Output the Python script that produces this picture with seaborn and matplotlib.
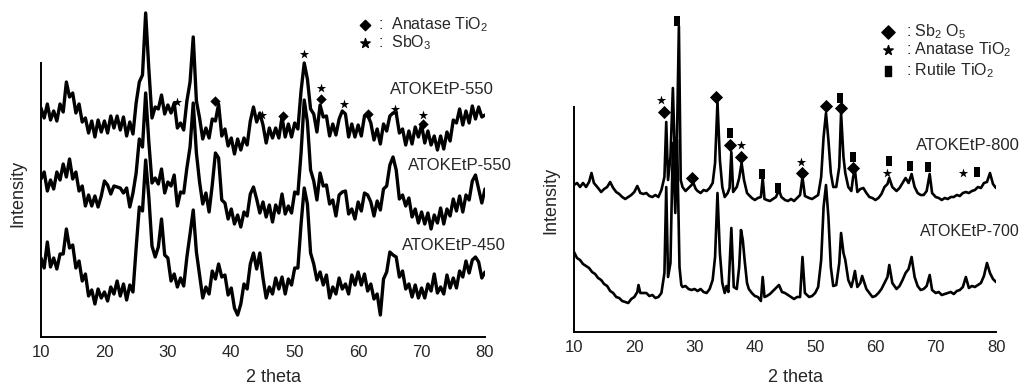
import numpy as np
import pandas as pd
import matplotlib
matplotlib.use("Agg")
import matplotlib.pyplot as plt
import seaborn as sns
from matplotlib.path import Path

# ---------------- data (intensity in arbitrary units, offset stacked) ----------------
theta_left = np.arange(10.0, 80.01, 0.5)

atok_550_top = [229,219,233,217,226,216,233,225,255,240,
                244,224,233,215,219,204,216,200,217,205,
                216,204,221,209,221,207,220,201,215,203,
                234,255,262,324,268,219,230,228,242,223,
                232,224,234,209,214,207,236,255,300,236,
                219,198,209,199,218,216,233,201,208,191,
                199,183,198,187,199,192,216,230,215,224,
                212,194,209,199,209,199,220,200,213,200,
                214,208,246,274,258,228,223,205,232,220,
                221,201,213,202,218,226,223,200,213,200,
                212,201,221,222,214,197,208,193,213,206,
                221,224,224,204,208,192,206,193,210,200,
                212,194,206,192,201,187,201,188,205,196,
                217,214,228,212,226,214,231,218,230,220,
                222]

atok_550_mid = [158,165,146,157,148,165,157,173,160,178,
                158,165,146,151,131,142,131,141,130,141,
                156,152,143,151,150,149,144,149,130,144,
                164,198,190,244,195,154,159,153,168,144,
                155,151,162,131,145,144,169,190,234,184,
                155,133,144,125,152,184,179,137,134,118,
                128,113,122,110,125,121,143,150,138,124,
                135,120,132,115,132,124,143,123,131,124,
                145,143,184,237,215,167,156,137,164,151,
                152,133,137,121,142,145,146,123,128,118,
                135,126,144,142,135,121,136,127,148,151,
                172,180,167,138,142,131,139,120,128,114,
                125,113,124,108,122,114,129,113,128,121,
                138,126,141,125,142,137,156,162,148,134,
                148]

atok_450 = [79,69,95,70,79,68,83,83,108,89,
            92,69,76,56,63,41,47,33,48,39,
            45,36,50,43,56,41,53,37,52,45,
            89,130,126,177,140,91,80,90,118,82,
            79,56,63,50,59,51,80,103,127,85,
            62,39,50,43,66,58,73,60,62,42,
            49,29,22,33,53,48,73,84,68,84,
            59,39,50,43,59,48,60,43,58,52,
            69,69,113,149,133,84,73,57,65,52,
            62,39,50,43,59,48,53,43,62,52,
            65,52,63,46,53,38,43,22,58,65,
            85,82,80,60,66,48,53,40,52,39,
            49,39,53,46,63,44,50,43,62,49,
            59,49,66,60,76,64,77,80,75,59,
            65]

theta_800 = [10.0,10.5,11.0,11.5,12.0,12.5,12.9,13.3,14.0,14.5,
             15.0,15.5,16.0,16.5,17.0,17.5,18.0,18.5,19.0,19.5,
             20.0,20.5,21.0,21.5,22.0,22.5,23.0,23.5,24.0,24.5,
             25.0,25.3,25.6,26.0,26.4,26.8,27.0,27.4,27.7,28.0,
             28.5,29.0,29.5,29.8,30.2,30.5,31.0,31.5,32.0,32.5,
             33.0,33.4,33.8,34.2,34.6,35.0,35.5,35.8,36.1,36.4,
             37.0,37.4,37.8,38.2,38.7,39.0,39.5,40.0,40.5,41.0,
             41.3,41.6,42.0,42.5,43.0,43.5,44.0,44.4,45.0,45.5,
             46.0,46.5,47.0,47.5,47.9,48.3,49.0,49.5,50.0,50.5,
             51.0,51.4,51.8,52.2,52.6,53.0,53.5,54.0,54.3,54.7,
             55.0,55.5,56.0,56.3,56.6,57.0,57.5,58.0,58.5,59.0,
             59.5,60.0,60.5,61.0,61.5,62.0,62.3,62.8,63.5,64.0,
             64.5,65.0,65.5,66.0,66.5,67.0,67.5,68.0,68.5,69.0,
             69.4,70.0,70.5,71.0,71.5,72.0,72.5,73.0,73.5,74.0,
             74.5,75.0,75.5,76.0,76.5,77.0,77.5,78.0,78.5,79.0,
             79.5,80.0]
atok_800 = [147,149,145,149,145,150,159,149,144,140,
            143,145,150,144,140,138,135,133,135,137,
            140,146,139,138,139,136,135,137,135,142,
            155,210,152,175,244,159,165,306,152,145,
            141,144,147,149,143,141,139,142,141,144,
            149,169,230,172,145,135,139,144,180,140,
            145,154,169,152,139,137,134,132,134,135,
            154,133,132,131,133,135,142,135,132,131,
            133,131,134,137,155,136,134,133,135,137,
            155,195,219,192,159,145,145,165,219,175,
            159,145,141,155,162,140,143,144,139,135,
            134,132,134,138,145,148,154,145,141,144,
            149,154,149,158,145,139,137,137,141,158,
            139,135,134,132,134,133,135,135,137,136,
            139,140,139,141,142,145,144,149,150,159,
            148,144]

theta_700 = [10.0,10.5,11.0,11.5,12.0,12.5,13.0,13.5,14.0,14.5,
             15.0,15.5,16.0,16.5,17.0,17.5,18.0,18.5,19.0,19.5,
             20.0,20.5,20.7,21.0,21.5,22.0,22.5,23.0,23.5,24.0,
             24.5,25.0,25.3,25.6,26.0,26.4,26.8,27.1,27.5,27.8,
             28.0,28.5,29.0,29.5,30.0,30.5,31.0,31.5,32.0,32.5,
             33.0,33.4,33.8,34.2,34.6,35.0,35.3,35.6,36.1,36.5,
             37.0,37.4,37.7,38.0,38.3,38.7,39.0,39.5,40.0,40.5,
             41.0,41.3,41.6,42.0,42.5,43.0,43.5,44.0,44.5,45.0,
             45.5,46.0,46.5,47.0,47.5,47.9,48.3,49.0,49.5,50.0,
             50.5,51.0,51.4,51.8,52.2,52.6,53.0,53.5,54.0,54.3,
             54.7,55.0,55.5,56.0,56.3,56.6,57.0,57.5,57.8,58.5,
             59.0,59.5,60.0,60.5,61.0,61.5,62.0,62.3,62.8,63.5,
             64.0,64.5,65.0,65.5,66.0,66.5,67.0,67.5,68.0,68.5,
             69.0,69.4,70.0,70.5,71.0,71.5,72.0,72.5,73.0,73.5,
             74.0,74.5,75.0,75.5,76.0,76.5,77.0,77.5,78.0,78.5,
             79.0,79.5,80.0]
atok_700 = [80,74,72,68,66,64,60,58,54,52,
            48,46,41,39,35,34,31,30,29,33,
            35,40,47,39,39,39,36,37,34,35,
            39,59,145,55,69,189,119,192,65,47,
            45,46,43,42,43,41,43,40,39,43,
            52,75,139,79,49,39,46,40,104,45,
            43,65,102,92,72,49,43,39,36,35,
            31,55,35,36,38,41,44,47,40,39,
            37,35,33,35,35,75,39,35,36,39,
            45,72,125,147,115,65,46,47,69,99,
            79,72,52,45,52,61,45,49,56,43,
            39,35,36,39,43,49,55,67,49,43,
            46,52,59,63,75,55,46,42,43,46,
            57,42,39,40,37,38,39,40,38,41,
            42,45,55,44,46,45,47,49,56,69,
            59,53,50]

# phase markers
left_anatase_theta = [37.4, 48.1, 54.2, 61.6, 70.2]
left_anatase_int = [236, 221, 238, 223, 213]
left_sbo3_theta = [31.4, 44.8, 51.4, 54.2, 57.8, 65.8, 70.3]
left_sbo3_int = [235, 222, 283, 249, 233, 228, 222]

right_sb2o5_theta = [24.9, 29.6, 33.6, 35.8, 37.7, 47.8, 51.8, 54.3, 56.2]
right_sb2o5_int = [220, 154, 235, 187, 175, 159, 226, 224, 164]
right_anatase_theta = [24.5, 37.7, 47.7, 62.0, 74.6]
right_anatase_int = [232, 187, 170, 159, 159]
right_rutile_theta = [27.1, 35.9, 41.2, 43.8, 54.2, 56.2, 62.2, 65.7, 68.8, 76.9]
right_rutile_int = [311, 199, 158, 144, 234, 175, 171, 166, 165, 160]

x_ticks = [10, 20, 30, 40, 50, 60, 70, 80]

# ---------------- style ----------------
sns.set_style("white")
plt.rcParams["font.family"] = ["Liberation Sans", "DejaVu Sans"]
plt.rcParams["mathtext.fontset"] = "custom"
plt.rcParams["mathtext.rm"] = "Liberation Sans"
plt.rcParams["mathtext.it"] = "Liberation Sans:italic"
plt.rcParams["mathtext.bf"] = "Liberation Sans:bold"

W, H = 1026, 387
fig = plt.figure(figsize=(W / 100, H / 100), dpi=100)
axL = fig.add_axes([41 / W, 1 - 337 / H, 444 / W, 337 / H])
axR = fig.add_axes([574 / W, 1 - 332 / H, 422 / W, 332 / H])

rect = Path([(-0.32, -0.5), (0.32, -0.5), (0.32, 0.5), (-0.32, 0.5), (-0.32, -0.5)],
            [Path.MOVETO, Path.LINETO, Path.LINETO, Path.LINETO, Path.CLOSEPOLY])

def draw_trace(ax, x, y, lw):
    df = pd.DataFrame({"theta": x, "I": y})
    sns.lineplot(data=df, x="theta", y="I", ax=ax, color="black", lw=lw,
                 estimator=None, sort=False, legend=False)

for ys in (atok_550_top, atok_550_mid, atok_450):
    draw_trace(axL, theta_left, ys, 2.4)
draw_trace(axR, theta_800, atok_800, 1.9)
draw_trace(axR, theta_700, atok_700, 1.9)

def marks(ax, x, y, marker, s):
    sns.scatterplot(x=x, y=y, ax=ax, marker=marker, s=s, color="black",
                    edgecolor="black", linewidth=0, legend=False, clip_on=False)

marks(axL, left_anatase_theta, left_anatase_int, "D", 28)
marks(axL, left_sbo3_theta, left_sbo3_int, "*", 50)
marks(axR, right_sb2o5_theta, right_sb2o5_int, "D", 45)
marks(axR, right_anatase_theta, right_anatase_int, "*", 50)
marks(axR, right_rutile_theta, right_rutile_int, rect, 60)

# axes cosmetics
for ax, top, ymax in ((axL, 274, 337), (axR, 225, 332)):
    ax.set_xlim(10, 80)
    ax.set_ylim(0, ymax)
    ax.set_xticks(x_ticks)
    ax.set_xticklabels([str(t) for t in x_ticks], fontsize=12)
    ax.set_xticks(np.arange(15, 80, 10), minor=True)
    ax.set_yticks([])
    ax.tick_params(axis="x", which="major", direction="out", length=3, width=1.0, pad=3)
    ax.tick_params(axis="x", which="minor", direction="out", length=2, width=0.8)
    ax.set_xlabel("")
    ax.set_ylabel("")
    for sp in ("top", "right"):
        ax.spines[sp].set_visible(False)
    ax.spines["left"].set_bounds(0, top)
    ax.spines["left"].set_linewidth(1.4)
    ax.spines["bottom"].set_linewidth(1.4)
    ax.spines["left"].set_color("black")
    ax.spines["bottom"].set_color("black")
    ax.patch.set_alpha(0)

# sample labels
lab_kw = dict(fontsize=12, ha="left", va="center", clip_on=False)
axL.text(65.0, 247, "ATOKEtP-550", **lab_kw)
axL.text(67.9, 172, "ATOKEtP-550", **lab_kw)
axL.text(66.9, 92, "ATOKEtP-450", **lab_kw)
axR.text(66.7, 187, "ATOKEtP-800", **lab_kw)
axR.text(67.4, 101, "ATOKEtP-700", fontsize=11.5, ha="left", va="center", clip_on=False)

# legends drawn as in the figure
axL.scatter([61.1], [312], marker="D", s=28, color="black", clip_on=False)
axL.scatter([61.1], [294], marker="*", s=50, color="black", clip_on=False)
axL.text(63.1, 312, ":  Anatase TiO$_2$", fontsize=11.5, ha="left", va="center")
axL.text(63.1, 294, ":  SbO$_3$", fontsize=11.5, ha="left", va="center")

axR.scatter([62.1], [300], marker="D", s=45, color="black", clip_on=False)
axR.scatter([62.1], [282], marker="*", s=50, color="black", clip_on=False)
axR.scatter([62.1], [261], marker=rect, s=60, color="black", clip_on=False)
axR.text(65.0, 300, ": Sb$_2$ O$_5$", fontsize=11.5, ha="left", va="center")
axR.text(65.0, 282, ": Anatase TiO$_2$", fontsize=11.5, ha="left", va="center")
axR.text(65.0, 261, ": Rutile TiO$_2$", fontsize=11.5, ha="left", va="center")

# axis titles
fig.text(273 / W, 1 - 377 / H, "2 theta", fontsize=13, ha="center", va="center")
fig.text(795 / W, 1 - 377 / H, "2 theta", fontsize=13, ha="center", va="center")
fig.text(18 / W, 1 - 193 / H, "Intensity", fontsize=13, rotation=90, ha="center", va="center")
fig.text(551 / W, 1 - 200 / H, "Intensity", fontsize=13, rotation=90, ha="center", va="center")

fig.savefig("out.png", dpi=100)
